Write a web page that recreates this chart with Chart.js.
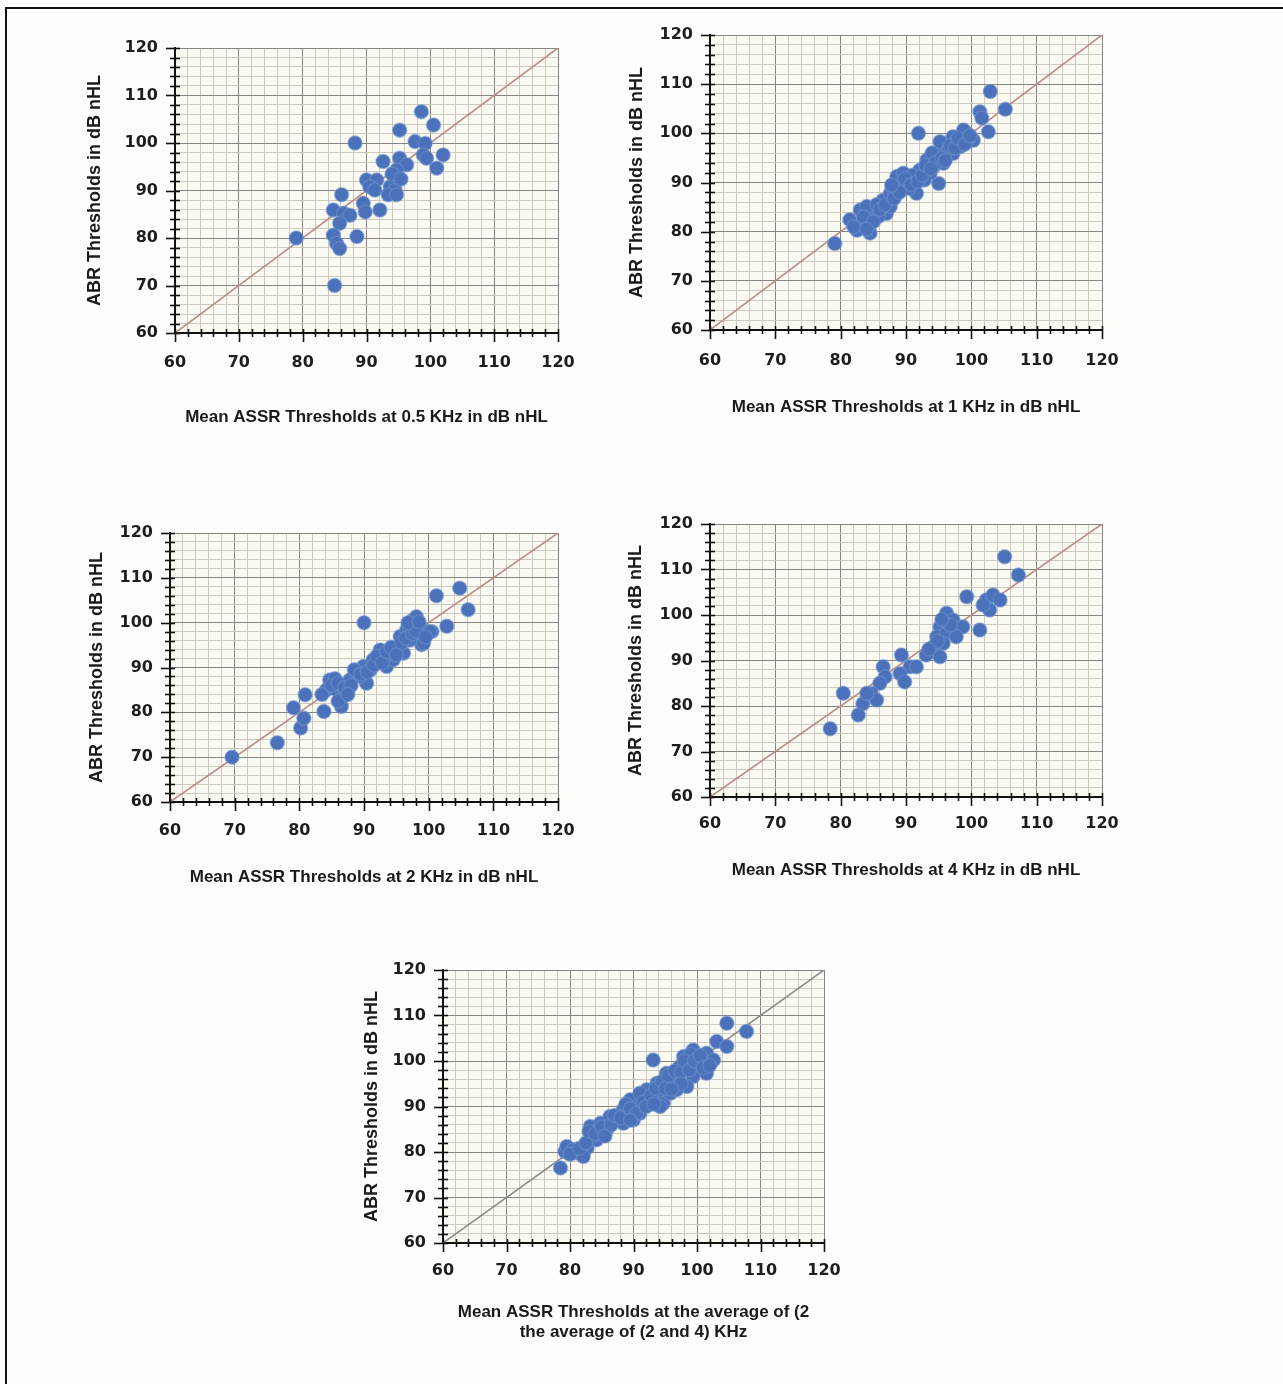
<!DOCTYPE html>
<html>
<head>
<meta charset="utf-8">
<script src="https://cdn.jsdelivr.net/npm/chart.js@4.4.1/dist/chart.umd.min.js"></script>
<style>
  html, body { margin: 0; padding: 0; background: #fdfdfb; }
  body { width: 1283px; height: 1384px; position: relative; overflow: hidden; }
  .frame { position: absolute; left: 5px; top: 7px; width: 1300px; height: 1400px;
           border-left: 2px solid #111; border-top: 2px solid #111; }
  .box { position: absolute; }
  canvas { display: block; }
</style>
</head>
<body>
<div class="frame"></div>
<div class="box" id="b1"><canvas id="c1"></canvas></div>
<div class="box" id="b2"><canvas id="c2"></canvas></div>
<div class="box" id="b3"><canvas id="c3"></canvas></div>
<div class="box" id="b4"><canvas id="c4"></canvas></div>
<div class="box" id="b5"><canvas id="c5"></canvas></div>
<script>
// values: mean ASSR threshold (x) vs ABR threshold (y), dB nHL
var assr05 = [79, 85, 88.2, 88.5, 86.1, 84.8, 86.4, 87.4, 85.8, 84.8, 85.3, 85.8, 89.5, 89.8, 92.1, 90, 91.6, 90.5,
              91.3, 93.7, 94.5, 93.4, 94.7, 92.6, 95.2, 96.3, 94.7, 95.2, 97.6, 99.2, 98.9, 99.4, 98.6, 100.5, 102, 101, 94, 95.4];
var abr05  = [80, 70, 100, 80.3, 89.1, 85.9, 85.2, 84.8, 83.1, 80.6, 78.9, 77.8, 87.3, 85.5, 85.9, 92.2, 92.2, 90.8,
              90.1, 90.8, 90.1, 89.1, 89.1, 96.1, 96.8, 95.4, 94.3, 102.7, 100.3, 99.9, 97.5, 96.8, 106.6, 103.8, 97.5, 94.7, 93.5, 92.4];

var assr1 = [102.9, 105.2, 101.3, 101.6, 102.6, 91.9, 95, 79.1, 81.4, 83, 82.5, 84.5, 84.5, 84, 87, 86.5, 87.6, 88.6,
             89.6, 90.6, 91.6, 92.1, 93.2, 93.7, 94.7, 95.7, 96.2, 97.2, 97.2, 98.3, 99.3, 100.3, 98.8, 95.2, 89.6, 87.6,
             85.8, 83.5, 94.2, 85.5, 88, 90.5, 92.8, 96.5, 94, 91, 99.5, 97.8,
             83.5, 85, 86, 86.8, 88.2, 89, 89.8, 90.8, 91.8, 92.5, 93, 94.5, 95.5, 96, 96.8, 97.5, 98, 99, 99.8, 93.8, 87.8, 82, 84];
var abr1  = [108.5, 104.9, 104.4, 103.1, 100.3, 100, 89.8, 77.6, 82.4, 84.4, 80.3, 79.7, 83.1, 85.1, 83.7, 86.4, 87.8, 91.2,
             89.1, 90.5, 87.8, 92.5, 94.6, 91.9, 95.9, 93.9, 98, 99.3, 95.9, 97.3, 100, 98.6, 100.7, 98.3, 91.9, 85.1,
             83.1, 81.7, 93.2, 85.5, 88.5, 88.8, 90.5, 96.8, 96, 91.5, 98.8, 98.7,
             83, 82, 84.5, 85.5, 86.8, 88, 90.8, 89.6, 90.2, 91.5, 93.5, 94, 95, 94.5, 97.5, 97, 99, 97.8, 99.5, 92.8, 89.5, 81, 80.5];

var assr2 = [69.6, 76.6, 79.1, 80.2, 80.7, 80.9, 83.8, 90, 101.2, 104.8, 106.1, 102.8, 100.5, 98.9, 84.7, 84.2, 85.8, 86.8,
             86.5, 87.8, 88.9, 89.9, 90.4, 91.4, 92.5, 93.5, 94, 95.1, 95.6, 96.6, 97.6, 98.7, 99.2, 100.2, 97.1, 96.1,
             94.5, 89.4, 98.1, 83.5, 85.5, 91, 93, 97,
             85, 86, 87, 88, 88.5, 89.5, 90.5, 91.5, 92, 92.8, 93.5, 94.2, 95, 95.8, 96.5, 97.5, 98, 96.8, 98.5, 99.5, 86, 87.5];
var abr2  = [70, 73.2, 81, 76.5, 78.7, 83.9, 80.2, 100, 106, 107.7, 102.9, 99.2, 98, 95.1, 87.2, 85, 85, 83.5,
             81.3, 87.2, 88.7, 90.2, 86.5, 91.7, 93.9, 90.2, 93.2, 94.6, 96.9, 98.4, 100.6, 99.1, 95.4, 98, 96.1, 93.2,
             91.7, 88, 101.3, 84, 87.5, 89.5, 92, 98.8,
             86, 86.5, 85.5, 86, 89.5, 88.5, 89, 90.5, 92.5, 91, 93.5, 94.5, 92.8, 95.5, 96.5, 97.5, 98.2, 100, 100.2, 96.8, 82.5, 84];

var assr4 = [105.1, 107.2, 99.3, 102.3, 103.3, 104.4, 102.8, 101.8, 101.3, 96.2, 97.2, 98.7, 95.2, 94.7, 96.2, 97.7, 94.2,
             95.2, 93.1, 95.7, 89.3, 90.6, 91.6, 89.1, 89.8, 86.5, 86.8, 86, 84.7, 85.5, 83.4, 82.7, 80.4, 78.4, 84,
             94.8, 96.8, 95.5, 93.5];
var abr4  = [112.8, 108.8, 104, 103.3, 104.4, 103.3, 101.1, 102.2, 96.7, 100.4, 98.9, 97.4, 97.4, 95.2, 96, 95.2, 93,
             90.8, 91.2, 93.8, 91.2, 88.6, 88.6, 87.1, 85.3, 88.6, 86.4, 85, 82.8, 81.3, 80.5, 78, 82.8, 75, 82.8,
             94.2, 97.8, 99, 92.5];

var assrAvg = [78.5, 79.2, 81.1, 82.7, 84.2, 83.2, 84.8, 86.3, 85.8, 87.4, 88.4, 89.5, 90, 91, 92.1, 93.1, 93.7, 94.7,
               95.2, 96.3, 97.3, 97.9, 99.4, 100.5, 101.5, 102.6, 99.4, 98.4, 95.8, 94.2, 93.1, 104.7, 103.1, 104.7,
               107.8, 79.5, 82.1, 88.4, 91, 96.8, 101.5, 80.5, 83.5, 86, 89, 90.5, 92.5, 94, 96, 98.5, 100, 97, 99, 101,
               80, 81.5, 82.5, 83, 84, 85, 85.5, 86.5, 87, 88, 88.8, 89.5, 90.5, 91.5, 92, 92.8, 93.5, 94.5, 95, 95.5,
               96.5, 97.5, 98, 98.8, 99.6, 100.5, 101, 102, 97.5, 96, 93.2, 89.5];
var abrAvg  = [76.5, 80.1, 79.8, 80.9, 82.7, 85.6, 86.3, 87.8, 84.9, 87.1, 89.3, 91.5, 87.1, 88.5, 93.7, 92.2, 95.1, 90.7,
               97.3, 95.9, 98.8, 101, 102.4, 98.8, 101.7, 100.2, 96.6, 94.4, 92.9, 90, 100.2, 108.3, 104.3, 103.2,
               106.5, 81.2, 79, 86.3, 92.9, 93.7, 97.3, 80.5, 83.5, 85.5, 88.5, 90, 91, 93.5, 96, 99.5, 100.5, 96.8, 101.5, 99.5,
               79.5, 80.8, 82, 84.5, 84, 85.5, 83.5, 86, 88, 87.5, 90.5, 89.5, 88.5, 91, 90, 92.5, 94, 95.5, 94, 96.8,
               97.8, 97.5, 100, 98, 100, 101.2, 98.5, 99, 95, 93.8, 90.5, 87];

var axisMin = 60, axisMax = 120, minorStep = 2, majorStep = 10;
var lineOfEquality = [60, 120];

var yTitle = 'ABR Thresholds in dB nHL';
var xTitles = [
  'Mean ASSR Thresholds at 0.5 KHz in dB nHL',
  'Mean ASSR Thresholds at 1 KHz in dB nHL',
  'Mean ASSR Thresholds at 2 KHz in dB nHL',
  'Mean ASSR Thresholds at 4 KHz in dB nHL',
  ['Mean ASSR Thresholds at the average of (2', 'the average of (2 and 4) KHz']
];
var seriesX = [assr05, assr1, assr2, assr4, assrAvg];
var seriesY = [abr05, abr1, abr2, abr4, abrAvg];

// where each plot area sits on the page
var panels = [
  { id: 'c1', box: 'b1', left: 175, top: 48,  w: 383, h: 285, yGap: 80, xGap: 84, tickPad: 20, line: '#bd8a84' },
  { id: 'c2', box: 'b2', left: 710, top: 35,  w: 392, h: 295, yGap: 73, xGap: 77, tickPad: 21, line: '#bd8a84' },
  { id: 'c3', box: 'b3', left: 170, top: 533, w: 388, h: 269, yGap: 73, xGap: 75, tickPad: 19, line: '#bd8a84' },
  { id: 'c4', box: 'b4', left: 710, top: 524, w: 392, h: 273, yGap: 74, xGap: 73, tickPad: 17, line: '#bd8a84' },
  { id: 'c5', box: 'b5', left: 443, top: 970, w: 381, h: 273, yGap: 71, xGap: 69, tickPad: 18, line: '#8e8a88' }
];

var LW = 110, PT = 12, PR = 30, BH = 110;

function toPoints(xs, ys) {
  var out = [];
  for (var i = 0; i < xs.length; i++) out.push({ x: xs[i], y: ys[i] });
  return out;
}

function isMajor(v) { return Math.abs(v % majorStep) < 1e-6; }

var paperPlugin = {
  id: 'paper',
  beforeDraw: function(chart) {
    var a = chart.chartArea, ctx = chart.ctx;
    ctx.save();
    ctx.fillStyle = '#fbfaf2';
    ctx.fillRect(a.left, a.top, a.right - a.left, a.bottom - a.top);
    ctx.restore();
  },
  afterDraw: function(chart) {
    // cross-shaped tick marks on both axes
    var xs = chart.scales.x, ys = chart.scales.y, ctx = chart.ctx;
    ctx.save();
    ctx.strokeStyle = '#111';
    ctx.lineWidth = 1.6;
    xs.ticks.forEach(function(t) {
      var px = Math.round(xs.getPixelForValue(t.value)) + 0.5;
      var big = isMajor(t.value);
      ctx.beginPath();
      ctx.moveTo(px, ys.bottom - 4);
      ctx.lineTo(px, ys.bottom + (big ? 9 : 4));
      ctx.stroke();
    });
    ys.ticks.forEach(function(t) {
      var py = Math.round(ys.getPixelForValue(t.value)) + 0.5;
      var big = isMajor(t.value);
      ctx.beginPath();
      ctx.moveTo(xs.left - (big ? 9 : 5), py);
      ctx.lineTo(xs.left + 5, py);
      ctx.stroke();
    });
    ctx.restore();
  }
};

function gridColor(c) {
  if (!c.tick) return '#cdcac0';
  return isMajor(c.tick.value) ? '#858585' : '#cdcac0';
}

panels.forEach(function(p, i) {
  var canvas = document.getElementById(p.id);
  var box = document.getElementById(p.box);
  var cw = LW + p.w + PR, ch = PT + p.h + BH;
  box.style.left = (p.left - LW) + 'px';
  box.style.top = (p.top - PT) + 'px';
  canvas.width = cw;
  canvas.height = ch;
  canvas.style.width = cw + 'px';
  canvas.style.height = ch + 'px';

  var xt = xTitles[i];
  var nLines = Array.isArray(xt) ? xt.length : 1;
  var xLh = 17 * 1.2, yLh = 18 * 1.2;

  new Chart(canvas, {
    type: 'scatter',
    data: {
      datasets: [{
        data: toPoints(seriesX[i], seriesY[i]),
        backgroundColor: '#4a71b9',
        borderColor: 'rgba(110,145,205,0.55)',
        borderWidth: 1.5,
        pointRadius: 7,
        pointHoverRadius: 7,
        order: 1
      }, {
        data: toPoints(lineOfEquality, lineOfEquality),
        showLine: true,
        borderColor: p.line,
        borderWidth: 1.6,
        pointRadius: 0,
        order: 2
      }]
    },
    options: {
      responsive: false,
      animation: false,
      events: [],
      layout: { padding: { left: 0, top: PT, right: PR, bottom: 0 } },
      plugins: { legend: { display: false }, tooltip: { enabled: false } },
      scales: {
        x: {
          type: 'linear',
          min: axisMin, max: axisMax,
          afterFit: function(s) { s.height = BH; s.paddingLeft = 0; s.paddingRight = 0; },
          grid: { color: gridColor, lineWidth: 1, drawTicks: false },
          border: { display: true, color: '#111', width: 2 },
          ticks: {
            stepSize: minorStep, autoSkip: false, maxRotation: 0, padding: p.tickPad,
            color: '#1e1e1e',
            font: { family: 'DejaVu Sans', weight: 'bold', size: 16 },
            callback: function(v) { return isMajor(v) ? v : ''; }
          },
          title: {
            display: true, text: xt, color: '#1a1a1a',
            font: { family: 'Liberation Sans', weight: 'bold', size: 17 },
            padding: { top: 0, bottom: BH - p.xGap - xLh / 2 - xLh * (nLines - 1) }
          }
        },
        y: {
          type: 'linear',
          min: axisMin, max: axisMax,
          afterFit: function(s) { s.width = LW; s.paddingTop = 0; s.paddingBottom = 0; },
          grid: { color: gridColor, lineWidth: 1, drawTicks: false },
          border: { display: true, color: '#111', width: 2 },
          ticks: {
            stepSize: minorStep, autoSkip: false, padding: 17,
            color: '#1e1e1e',
            font: { family: 'DejaVu Sans', weight: 'bold', size: 16 },
            callback: function(v) { return isMajor(v) ? v : ''; }
          },
          title: {
            display: true, text: yTitle, color: '#1a1a1a',
            font: { family: 'Liberation Sans', weight: 'bold', size: 18 },
            padding: { top: LW - p.yGap - yLh / 2, bottom: 0 }
          }
        }
      }
    },
    plugins: [paperPlugin]
  });
});
</script>
</body>
</html>
